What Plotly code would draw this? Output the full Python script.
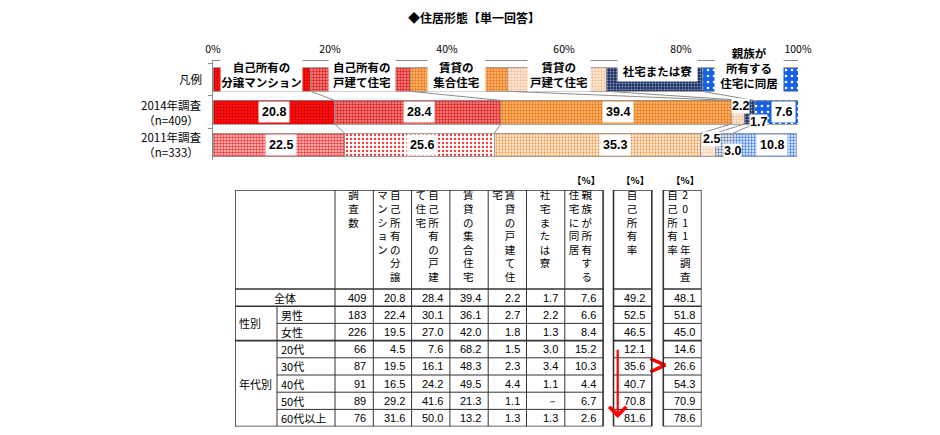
import plotly.graph_objects as go

FIG_W, FIG_H = 940, 435
PAGE_MARGIN = 8  # the page body margin shifts the figure; compensate in layout

# ---------------- data ----------------
title_text = "◆住居形態【単一回答】"
bar_rows = ["凡例", "2014年調査", "2011年調査"]
bar_row_labels = ["凡例", "2014年調査<br>（n=409）", "2011年調査<br>（n=333）"]
housing_types = ["自己所有の分譲マンション", "自己所有の戸建て住宅", "賃貸の集合住宅",
                 "賃貸の戸建て住宅", "社宅または寮", "親族が所有する住宅に同居"]
legend_labels = ["自己所有の<br>分譲マンション", "自己所有の<br>戸建て住宅", "賃貸の<br>集合住宅",
                 "賃貸の<br>戸建て住宅", "社宅または寮", "親族が<br>所有する<br>住宅に同居"]
legend_share = [16.7, 17.0, 16.6, 16.9, 16.4, 16.4]
share_2014 = [20.8, 28.4, 39.4, 2.2, 1.7, 7.6]
share_2011 = [22.5, 25.6, 35.3, 2.5, 3.0, 10.8]
pct_ticks = [0, 20, 40, 60, 80, 100]
pct_ticktext = ["0%", "20%", "40%", "60%", "80%", "100%"]

table_row_labels = ["全体", "男性", "女性", "20代", "30代", "40代", "50代", "60代以上"]
table_row_groups = ["", "性別", "性別", "年代別", "年代別", "年代別", "年代別", "年代別"]
sample_n = [409, 183, 226, 66, 87, 91, 89, 76]
t_mansion = [20.8, 22.4, 19.5, 4.5, 19.5, 16.5, 29.2, 31.6]
t_house = [28.4, 30.1, 27.0, 7.6, 16.1, 24.2, 41.6, 50.0]
t_apartment = [39.4, 36.1, 42.0, 68.2, 48.3, 49.5, 21.3, 13.2]
t_rent_house = [2.2, 2.7, 1.8, 1.5, 2.3, 4.4, 1.1, 1.3]
t_company = [1.7, 2.2, 1.3, 3.0, 3.4, 1.1, None, 1.3]
t_relatives = [7.6, 6.6, 8.4, 15.2, 10.3, 4.4, 6.7, 2.6]
own_rate_2014 = [49.2, 52.5, 46.5, 12.1, 35.6, 40.7, 70.8, 81.6]
own_rate_2011 = [48.1, 51.8, 45.0, 14.6, 26.6, 54.3, 70.9, 78.6]

header_main = [["調査数"], ["マンション", "自己所有の分譲"], ["て住宅", "自己所有の戸建"],
               ["賃貸の集合住宅"], ["宅", "賃貸の戸建て住"], ["社宅または寮"],
               ["住宅に同居", "親族が所有する"]]
header_own = [["自己所有率"]]
header_own11 = [["自己所有率", "2011年調査"]]
unit_text = "【%】"
missing_text = "－"

# ---------------- styles ----------------
FONT_JP = "Noto Sans CJK JP, Noto Sans, sans-serif"
FONT_NUM = "Liberation Sans, Arial, sans-serif"
GRID = "#8c8c8c"
LINE = "#333333"
RED = "#FF0000"

# (bg, fg, size, solidity)
style_2014 = [("#FF1010", "#C00000", 3, 0.3), ("#F49090", "#E02020", 3, 0.5),
              ("#FBC08A", "#F07A10", 3, 0.5), ("#FFF0E4", "#F6C29A", 3, 0.5),
              ("#1F3060", "#8A9EC6", 3, 0.3), ("#1560E8", "#FFFFFF", 6, 0.15)]
style_2011 = [("#FFD4D4", "#F03C3C", 3, 0.55), ("#FFFFFF", "#F23030", 4, 0.25),
              ("#FFF5EC", "#F59A4A", 3, 0.45), ("#FFF6F0", "#F9D0B2", 3, 0.55),
              ("#FFFFFF", "#6A86B0", 3, 0.5), ("#EAF1FF", "#3A7CF0", 3, 0.45)]

legend_box_w = [81, 66, 57, 62, 79, 68]
legend_box_h = [33, 33, 33, 33, 21, 48]
legend_box_dy = [4.5, 4.5, 4.5, 4.5, 8.5, 11.5]
legend_box_dx = [0, 1.5, -2, 2, 3.5, -1]
label_off_2014 = [(0, 0), (1, 0), (1.5, 0), (2.3, 6.5), (9.5, -9.5), (7.5, 0)]
label_off_2011 = [(2, 0), (2, 0), (17, 0), (3.5, 6), (8.5, -6.5), (7, 0)]


def px_x(px):
    return (px - PAGE_MARGIN) / FIG_W


def px_y(px):
    return 1 - (px - PAGE_MARGIN) / FIG_H


# bar chart area (px in the target picture)
BX0, BX1, BY0, BY1 = 213, 798, 61, 160
Y_RANGE = [2.46, -0.565]
BAR_W = 0.72
ROW_LABEL_RIGHT = 204

# table geometry (units: columns / rows)
COL_PX, ROW_PX = 38.3, 17.2
T_LEFT_PX, T_TOP_PX = 235, 190
LABEL_W = 100 / COL_PX
GROUP_W = 42 / COL_PX
GAP1 = 10.4 / COL_PX
GAP2 = 11.5 / COL_PX
HDR = 99 / ROW_PX
n_rows = len(table_row_labels)

main_cols = [sample_n, t_mansion, t_house, t_apartment, t_rent_house, t_company, t_relatives]
main_left = [LABEL_W + i for i in range(len(main_cols))]
main_right = LABEL_W + len(main_cols)
t2_left = main_right + GAP1
t3_left = t2_left + 1 + GAP2
x_total = t3_left + 1
y_total = HDR + n_rows

fig = go.Figure()


def cumsum(v):
    out, s = [], 0
    for a in v:
        s += a
        out.append(s)
    return out


# ---------------- stacked bars (one trace per type and row) ----------------
for i, name in enumerate(housing_types):
    for row, val, st in [(bar_rows[0], legend_share[i], style_2014[i]),
                         (bar_rows[1], share_2014[i], style_2014[i]),
                         (bar_rows[2], share_2011[i], style_2011[i])]:
        fig.add_trace(go.Bar(
            y=[row], x=[val], orientation="h", name=name, showlegend=False,
            hoverinfo="skip", width=BAR_W,
            marker=dict(color=st[0], line=dict(color=GRID, width=0.8),
                        pattern=dict(shape=".", bgcolor=st[0], fgcolor=st[1],
                                     size=st[2], solidity=st[3], fillmode="replace")),
            xaxis="x", yaxis="y"))

shapes = []
annotations = []

cum_leg = cumsum(legend_share)
cum14 = cumsum(share_2014)
cum11 = cumsum(share_2011)
half = BAR_W / 2
for k in range(len(housing_types) - 1):
    shapes.append(dict(type="line", xref="x", yref="y", x0=cum_leg[k], y0=0 + half,
                       x1=cum14[k], y1=1 - half, line=dict(color=GRID, width=1)))
    shapes.append(dict(type="line", xref="x", yref="y", x0=cum14[k], y0=1 + half,
                       x1=cum11[k], y1=2 - half, line=dict(color=GRID, width=1)))

for r, txt in enumerate(bar_row_labels):
    annotations.append(dict(xref="paper", yref="y", x=px_x(ROW_LABEL_RIGHT), y=r, text=txt,
                            xanchor="right", align="center", showarrow=False,
                            font=dict(family=FONT_JP, size=11.5, color="#000000")))

for i, txt in enumerate(legend_labels):
    start = cum_leg[i] - legend_share[i]
    annotations.append(dict(
        xref="x", yref="y", x=start + legend_share[i] / 2, y=0, text=txt,
        showarrow=False, bgcolor="white", borderpad=0,
        width=legend_box_w[i], height=legend_box_h[i],
        xshift=legend_box_dx[i], yshift=legend_box_dy[i],
        font=dict(family=FONT_JP, size=11.5, color="#000000", weight="bold")))

for row_idx, vals, cums, offs in [(1, share_2014, cum14, label_off_2014),
                                  (2, share_2011, cum11, label_off_2011)]:
    for i, v in enumerate(vals):
        start = cums[i] - v
        annotations.append(dict(
            xref="x", yref="y", x=start + v / 2, y=row_idx, text=f"{v:.1f}",
            showarrow=False, bgcolor="white", borderpad=3 if v >= 5 else 0,
            xshift=offs[i][0], yshift=offs[i][1],
            font=dict(family=FONT_NUM, size=12.5, color="#000000", weight="bold")))

# ---------------- table ----------------
def hline(y, x0, x1, w):
    shapes.append(dict(type="line", xref="x2", yref="y2", x0=x0, x1=x1, y0=y, y1=y,
                       line=dict(color=LINE, width=w)))


def vline(x, y0, y1, w):
    shapes.append(dict(type="line", xref="x2", yref="y2", x0=x, x1=x, y0=y0, y1=y1,
                       line=dict(color=LINE, width=w)))


THIN, THICK = 1, 1.6
vline(0, 0, y_total, THICK)
vline(GROUP_W, HDR + 1, y_total, THIN)
for xl in main_left:
    vline(xl, 0, y_total, THIN)
vline(main_right, 0, y_total, THICK)
hline(0, 0, main_right, THICK)
hline(y_total, 0, main_right, THICK)
for r in range(n_rows):
    grp = table_row_groups[r]
    same_group = r > 0 and grp != "" and grp == table_row_groups[r - 1]
    hline(HDR + r, GROUP_W if same_group else 0, main_right, THIN if same_group else THICK)

for left in (t2_left, t3_left):
    vline(left, 0, y_total, THICK)
    vline(left + 1, 0, y_total, THICK)
    hline(0, left, left + 1, THICK)
    hline(y_total, left, left + 1, THICK)
    for r in range(n_rows):
        grp = table_row_groups[r]
        same_group = r > 0 and grp != "" and grp == table_row_groups[r - 1]
        hline(HDR + r, left, left + 1, THIN if same_group else THICK)

CH_Y0, CH_STEP = 6.7 / ROW_PX, 13.6 / ROW_PX
hx, hy, ht = [], [], []
col_specs = [(main_left[j], h) for j, h in enumerate(header_main)] + \
            [(t2_left, header_own[0]), (t3_left, header_own11[0])]
for left, strings in col_specs:
    offs = [-0.02] if len(strings) == 1 else [-0.26, 0.07]
    for s, off in zip(strings, offs):
        for k, ch in enumerate(s):
            hx.append(left + 0.5 + off)
            hy.append(CH_Y0 + k * CH_STEP)
            ht.append(ch)
fig.add_trace(go.Scatter(x=hx, y=hy, text=ht, mode="text", textposition="middle center",
                         textfont=dict(family=FONT_JP, size=10.5, color="#000000"),
                         hoverinfo="skip", showlegend=False, xaxis="x2", yaxis="y2"))

for right in (main_right, t2_left + 1, t3_left + 1):
    annotations.append(dict(xref="x2", yref="y2", x=right, y=0, text=unit_text,
                            xanchor="right", yanchor="bottom", xshift=-1, yshift=1,
                            showarrow=False,
                            font=dict(family=FONT_JP, size=9.5, color="#000000", weight="bold")))

annotations.append(dict(xref="x2", yref="y2", x=LABEL_W / 2, y=HDR + 0.5, text=table_row_labels[0],
                        showarrow=False, font=dict(family=FONT_JP, size=11, color="#000000")))
for r in range(1, n_rows):
    annotations.append(dict(xref="x2", yref="y2", x=GROUP_W, y=HDR + r + 0.5,
                            text=table_row_labels[r], xanchor="left", xshift=2, showarrow=False,
                            font=dict(family=FONT_JP, size=11, color="#000000")))
groups_seen = []
for g in table_row_groups:
    if g and g not in groups_seen:
        groups_seen.append(g)
for g in groups_seen:
    idx = [r for r, gg in enumerate(table_row_groups) if gg == g]
    annotations.append(dict(xref="x2", yref="y2", x=0, y=HDR + (idx[0] + idx[-1]) / 2 + 0.5,
                            text=g, xanchor="left", xshift=2, showarrow=False,
                            font=dict(family=FONT_JP, size=11, color="#000000")))


def fmt(v, integer=False):
    if v is None:
        return missing_text
    return str(int(v)) if integer else f"{v:.1f}"


value_cols = [(main_left[j] + 1, col, j == 0) for j, col in enumerate(main_cols)] + \
             [(t2_left + 1, own_rate_2014, False), (t3_left + 1, own_rate_2011, False)]
for right, col, is_int in value_cols:
    for r, v in enumerate(col):
        annotations.append(dict(xref="x2", yref="y2", x=right, y=HDR + r + 0.5,
                                text=fmt(v, is_int), xanchor="right", xshift=-5, showarrow=False,
                                font=dict(family=FONT_NUM, size=11, color="#000000")))

arrow_x = t2_left + 0.11
annotations.append(dict(xref="x2", yref="y2", axref="x2", ayref="y2",
                        x=arrow_x, y=HDR + 7.5, ax=arrow_x, ay=HDR + 3.45, text="",
                        showarrow=True, arrowhead=4, arrowsize=1.5, arrowwidth=2.2,
                        arrowcolor=RED))
r30 = HDR + table_row_labels.index("30代")
fig.add_trace(go.Scatter(x=[t2_left + 0.96, t3_left + 0.05, t2_left + 0.96],
                         y=[r30 + 0.05, r30 + 0.43, r30 + 0.82],
                         mode="lines", line=dict(color=RED, width=3.5),
                         hoverinfo="skip", showlegend=False, xaxis="x2", yaxis="y2"))

# title: anchored at the top of the figure so it is never cut off
annotations.append(dict(xref="paper", yref="paper", x=px_x(474), y=1,
                        text=title_text, showarrow=False, yanchor="top", borderpad=0,
                        font=dict(family=FONT_JP, size=12, color="#000000", weight="bold")))

fig.update_layout(
    width=FIG_W, height=FIG_H, margin=dict(l=0, r=0, t=0, b=0, pad=0, autoexpand=False),
    paper_bgcolor="white", plot_bgcolor="rgba(0,0,0,0)", showlegend=False,
    barmode="stack",
    xaxis=dict(domain=[px_x(BX0), px_x(BX1)], range=[0, 100], side="top",
               tickvals=pct_ticks, ticktext=pct_ticktext, ticks="inside", ticklen=4,
               tickcolor=GRID, showline=True, linecolor=GRID, linewidth=1,
               showgrid=False, zeroline=False, ticklabelstandoff=3, automargin=False,
               tickfont=dict(family=FONT_JP, size=10.5, color="#000000")),
    yaxis=dict(domain=[px_y(BY1), px_y(BY0)], type="category",
               categoryorder="array", categoryarray=bar_rows, range=Y_RANGE,
               ticks="outside", tickson="boundaries", ticklen=4, tickcolor=GRID,
               showline=True, linecolor=GRID, showgrid=False, zeroline=False,
               showticklabels=False, automargin=False),
    xaxis2=dict(domain=[px_x(T_LEFT_PX), px_x(T_LEFT_PX + x_total * COL_PX)],
                range=[0, x_total], visible=False, anchor="y2", automargin=False),
    yaxis2=dict(domain=[px_y(T_TOP_PX + y_total * ROW_PX), px_y(T_TOP_PX)],
                range=[y_total, 0], visible=False, anchor="x2", automargin=False),
    shapes=shapes, annotations=annotations,
)

fig.write_html("out.html", config={"displayModeBar": False})
